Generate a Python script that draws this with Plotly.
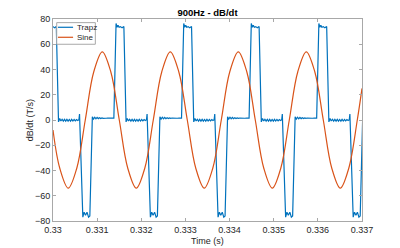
import plotly.graph_objects as go

# ---------------- data ----------------
x_tick_vals = [0.330, 0.331, 0.332, 0.333, 0.334, 0.335, 0.336, 0.337]
x_tick_text = ["0.33", "0.331", "0.332", "0.333", "0.334", "0.335", "0.336", "0.337"]
y_tick_vals = [-80, -60, -40, -20, 0, 20, 40, 60, 80]
series_names = ["Trapz", "Sine"]

# Sine series (time in s, dB/dt in T/s)
sine_t = [0.3300000, 0.3301534, 0.3303460, 0.3305386, 0.3307311, 0.3309237,
          0.3311163, 0.3313089, 0.3315014, 0.3316940, 0.3318866, 0.3320791,
          0.3322717, 0.3324643, 0.3326568, 0.3328494, 0.3330420, 0.3332346,
          0.3334271, 0.3336197, 0.3338123, 0.3340048, 0.3341974, 0.3343900,
          0.3345825, 0.3347751, 0.3349677, 0.3351603, 0.3353528, 0.3355454,
          0.3357380, 0.3359305, 0.3361231, 0.3363157, 0.3365082, 0.3367008,
          0.3368934, 0.3370000]
sine_v = [-8, -38.2, -54, -38.2, 0, 38.2,
          54, 38.2, 0, -38.2, -54, -38.2,
          0, 38.2, 54, 38.2, 0, -38.2,
          -54, -38.2, 0, 38.2, 54, 38.2,
          0, -38.2, -54, -38.2, 0, 38.2,
          54, 38.2, 0, -38.2, -54, -38.2,
          0, 25]

# Trapz series: one period (offset in ms from the
# centre of the positive pulse, value in T/s), and the read pulse centres (s)
trapz_period_dt_ms = [-0.1406, -0.0907, -0.0680, -0.0454, -0.0227, 0.0113, 0.0454, 0.0862, 0.1361,
                      0.1633, 0.1905, 0.2177, 0.2449, 0.2721, 0.2993, 0.3265, 0.3537, 0.3810,
                      0.4082, 0.4354, 0.4626, 0.4898, 0.5170, 0.5442, 0.5714, 0.5986, 0.6122,
                      0.6871, 0.7166, 0.7483, 0.7823, 0.8163, 0.8458, 0.9025,
                      0.9297, 0.9569, 0.9841, 1.0113, 1.0385, 1.0658, 1.0930, 1.1202, 1.1474,
                      1.1791, 1.2132, 1.2472, 1.2925, 1.3379]
trapz_period_v = [1.5, 76.5, 73.5, 75.0, 73.5, 74.0, 73.0, 74.0, -1.5,
                  1.2, -0.8, 0.6, -0.9, 0.5, -0.9, 0.5, -0.9, 0.4,
                  -0.9, 0.5, -0.8, 0.4, -0.7, 0.4, -0.4, 0.3, 4.8,
                  -77, -73, -75.5, -73, -77, -76, 2.5,
                  0.8, 2.2, 0.9, 2.0, 1.1, 1.8, 1.2, 1.7, 1.3,
                  1.6, 1.4, 1.5, 1.4, 1.6]
trapz_pulse_centres = [0.3299887, 0.3315193, 0.3330522, 0.3345828, 0.3361134]

# build the Trapz table from the read period and pulse centres
trapz_t, trapz_v = [], []
for c in trapz_pulse_centres:
    for dt, v in zip(trapz_period_dt_ms, trapz_period_v):
        trapz_t.append(c + dt / 1000.0)
        trapz_v.append(v)

# ---------------- styling ----------------
BLUE = "#0072BD"
ORANGE = "#D95319"
COLORS = [BLUE, ORANGE]
AXC = "#262626"
LINEC = "#a8a8a8"
FONT = "Liberation Sans, Arial, Helvetica, sans-serif"
LW = 1.2

fig = go.Figure()
fig.add_trace(go.Scatter(x=trapz_t, y=trapz_v, mode="lines", name=series_names[0],
                         line=dict(color=BLUE, width=LW), showlegend=False))
fig.add_trace(go.Scatter(x=sine_t, y=sine_v, mode="lines", name=series_names[1],
                         line=dict(color=ORANGE, width=LW, shape="spline"), showlegend=False))

axis_common = dict(showline=True, linecolor=LINEC, linewidth=1, mirror="ticks",
                   ticks="inside", ticklen=3, tickcolor=LINEC, tickwidth=1,
                   showgrid=False, zeroline=False, automargin=False,
                   tickfont=dict(family=FONT, size=9, color=AXC))

fig.update_xaxes(range=[0.330, 0.337], tickvals=x_tick_vals, ticktext=x_tick_text, **axis_common)
fig.update_yaxes(range=[-80, 80], tickvals=y_tick_vals, **axis_common)

# MATLAB-style compact legend box (paper coordinates)
shapes = [dict(type="rect", xref="paper", yref="paper", x0=0.012, x1=0.137, y0=0.875, y1=0.982,
               line=dict(color=LINEC, width=1), fillcolor="white", layer="above")]
annotations = []
for i, (nm, col) in enumerate(zip(series_names, COLORS)):
    yy = 0.959 - i * 0.0495
    shapes.append(dict(type="line", xref="paper", yref="paper", x0=0.016, x1=0.065, y0=yy, y1=yy,
                       line=dict(color=col, width=LW), layer="above"))
    annotations.append(dict(text=nm, xref="paper", yref="paper", x=0.070, y=yy,
                            xanchor="left", yanchor="middle", showarrow=False,
                            font=dict(family=FONT, size=8, color=AXC)))

# axis titles
annotations.append(dict(text="Time (s)", xref="paper", yref="paper", x=0.5, y=-0.098,
                        xanchor="center", yanchor="middle", showarrow=False,
                        font=dict(family=FONT, size=9, color=AXC)))
annotations.append(dict(text="dB/dt (T/s)", xref="paper", yref="paper", x=-0.074, y=0.5,
                        xanchor="center", yanchor="middle", textangle=-90, showarrow=False,
                        font=dict(family=FONT, size=9, color=AXC)))

# the page body adds an 8 px offset, so the figure is 392x240 with shifted margins
fig.update_layout(
    width=392, height=240,
    margin=dict(l=45, r=38, t=11, b=27, autoexpand=False),
    paper_bgcolor="white", plot_bgcolor="white",
    title=dict(text="<b>900Hz - dB/dt</b>", x=0.5, xref="paper", xanchor="center",
               y=1 - 4.5 / 240, yref="container", yanchor="middle",
               font=dict(family=FONT, size=9.5, color="#000000")),
    shapes=shapes, annotations=annotations,
    showlegend=False,
)

fig.write_html("out.html")
